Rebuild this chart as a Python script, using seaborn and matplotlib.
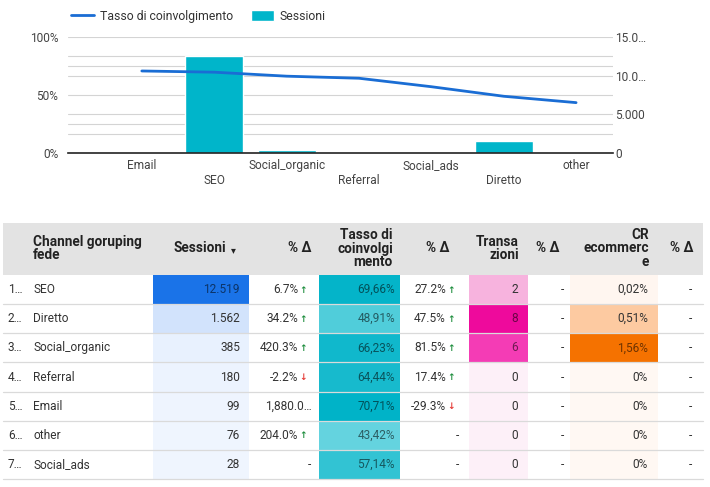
import numpy as np
import pandas as pd
import matplotlib
matplotlib.use("Agg")
import matplotlib.pyplot as plt
from matplotlib.colors import LinearSegmentedColormap, Normalize, to_rgb
from matplotlib.patches import Rectangle
import seaborn as sns

# data, one entry per channel
channels = ["SEO", "Diretto", "Social_organic", "Referral", "Email", "other", "Social_ads"]
sessions = [12519, 1562, 385, 180, 99, 76, 28]
sessions_delta = [6.7, 34.2, 420.3, -2.2, 1880.0, 204.0, None]
engagement = [69.66, 48.91, 66.23, 64.44, 70.71, 43.42, 57.14]
engagement_delta = [27.2, 47.5, 81.5, 17.4, -29.3, None, None]
transactions = [2, 8, 6, 0, 0, 0, 0]
transactions_delta = [None, None, None, None, None, None, None]
cr_ecommerce = [0.02, 0.51, 1.56, 0, 0, 0, 0]
cr_delta = [None, None, None, None, None, None, None]

left_ticks = [0, 50, 100]
right_ticks = [0, 5000, 10000, 15000]
header_titles = ["Channel goruping\nfede", "Sessioni", "% Δ", "Tasso di\ncoinvolgi\nmento",
                 "% Δ", "Transa\nzioni", "% Δ", "CR\necommerc\ne", "% Δ"]

LINE = "#1a6dd4"
BAR = "#00b5ca"
TXT = "#333333"

sns.set_theme(style="white")
plt.rcParams["font.family"] = ["Roboto", "DejaVu Sans"]

# chart is sorted by engagement, table by sessions
chart_idx = sorted(range(len(channels)), key=lambda i: -engagement[i])
table_idx = sorted(range(len(channels)), key=lambda i: -sessions[i])
df_chart = pd.DataFrame({
    "Canale": [channels[i] for i in chart_idx],
    "Sessioni": [sessions[i] for i in chart_idx],
    "Tasso": [engagement[i] for i in chart_idx],
})

fig = plt.figure(figsize=(7.1, 4.87), dpi=100)
W, H = 710, 487

# ---------- table ----------
ax_t = fig.add_axes([0, 0, 1, 1])
ax_t.set_xlim(0, W)
ax_t.set_ylim(H, 0)
ax_t.axis("off")

HEAD_Y0, ROW_Y0, ROW_H = 223, 275, 29.15
X_L, X_R = 3, 703
ax_t.add_patch(Rectangle((X_L, HEAD_Y0), X_R - X_L, ROW_Y0 - HEAD_Y0, color="#e3e3e3", lw=0))

head_x = [33, 226, 311, 393, 450, 519, 560, 649, 693]
for k, (t, x) in enumerate(zip(header_titles, head_x)):
    ax_t.text(x, 248.5, t, ha="left" if k == 0 else "right", va="center",
              multialignment="left" if k == 0 else "right",
              fontsize=9.8, fontweight="bold", color="#222222", linespacing=0.92)
ax_t.text(233, 250, "▾", ha="center", va="center", fontsize=7, color="#222222",
          family=["DejaVu Sans"])

heat_cols = [
    # (values, x0, x1, text right, cmap, norm, formatter)
    (sessions, 153, 249, 240,
     LinearSegmentedColormap.from_list("s", [(0, "#eff5fe"), (0.12, "#d2e3fc"), (1, "#1a73e8")]),
     Normalize(min(sessions), max(sessions)), lambda v: f"{v:,}".replace(",", ".")),
    (engagement, 319, 400, 395,
     LinearSegmentedColormap.from_list("e", ["#64d3df", "#00b3c8"]),
     Normalize(min(engagement), max(engagement)), lambda v: f"{v:.2f}".replace(".", ",") + "%"),
    (transactions, 469, 528, 518,
     LinearSegmentedColormap.from_list("t", [(0, "#fdf0f8"), (0.25, "#f7b3de"), (0.75, "#f43db5"), (1, "#ee0a9c")]),
     Normalize(0, max(transactions)), lambda v: f"{v}"),
    (cr_ecommerce, 570, 658, 648,
     LinearSegmentedColormap.from_list("c", [(0, "#fff8f3"), (0.33, "#fdc9a0"), (1, "#f57200")]),
     Normalize(0, max(cr_ecommerce)), lambda v: "0%" if v == 0 else f"{v:.2f}".replace(".", ",") + "%"),
]
delta_cols = [(sessions_delta, 298), (engagement_delta, 446), (transactions_delta, 551), (cr_delta, 679)]


def delta_text(v, xr, yc):
    if v is None:
        ax_t.text(xr + 11, yc, "-", ha="center", va="center", fontsize=8.6, color=TXT)
        return
    s = f"{v:,.1f}%"
    if len(s) > 7:
        ax_t.text(xr + 14, yc, s[:7] + "…", ha="right", va="center", fontsize=8.6, color=TXT)
        return
    ax_t.text(xr, yc, s, ha="right", va="center", fontsize=8.6, color=TXT)
    up = v >= 0
    ax_t.text(xr + 5, yc + 0.5, "↑" if up else "↓", ha="center", va="center", fontsize=6.5,
              fontweight="bold", color="#1e8e3e" if up else "#e53935", family=["DejaVu Sans"])


for r, i in enumerate(table_idx):
    y0 = ROW_Y0 + r * ROW_H
    yc = y0 + ROW_H / 2
    ax_t.text(8, yc, f"{r + 1}…", ha="left", va="center", fontsize=8.6, color=TXT)
    ax_t.text(33, yc, channels[i], ha="left", va="center", fontsize=8.6, color=TXT)
    for vals, x0, x1, xr, cmap, norm, fmt in heat_cols:
        c = cmap(norm(vals[i]))
        ax_t.add_patch(Rectangle((x0, y0), x1 - x0, ROW_H, color=c, lw=0))
        rgb = np.array(to_rgb(c))
        lum = 0.3 * rgb[0] + 0.59 * rgb[1] + 0.11 * rgb[2]
        tc = rgb * 0.45 if lum < 0.75 else TXT
        ax_t.text(xr, yc, fmt(vals[i]), ha="right", va="center", fontsize=8.6, color=tc)
    for vals, xr in delta_cols:
        delta_text(vals[i], xr, yc)
    ax_t.plot([X_L, X_R], [y0 + ROW_H, y0 + ROW_H], color="#dadada", lw=0.9)

# ---------- combo chart ----------
ax = fig.add_axes([68 / W, 1 - 153 / H, 545 / W, 116 / H])
ax2 = ax.twinx()

sns.lineplot(data=df_chart, x="Canale", y="Tasso", ax=ax, color=LINE, lw=2,
             sort=False, label="Tasso di coinvolgimento")
sns.barplot(data=df_chart, x="Canale", y="Sessioni", ax=ax2, color=BAR, width=0.8,
            saturation=1, label="Sessioni")

h1, l1 = ax.get_legend_handles_labels()
h2, l2 = ax2.get_legend_handles_labels()
for a in (ax, ax2):
    if a.get_legend() is not None:
        a.get_legend().remove()

ax.set_zorder(ax2.get_zorder() + 1)
ax.patch.set_visible(False)

ax.set_ylim(0, 100)
ax2.set_ylim(0, 15000)
ax.set_yticks(left_ticks, labels=[f"{v}%" for v in left_ticks])
right_labels = []
for v in right_ticks:
    s = f"{v:,}".replace(",", ".")
    right_labels.append(s[:4] + "…" if len(s) > 5 else s)
ax2.set_yticks(right_ticks, labels=right_labels)
ax2.set_yticks([2500, 12500] + [p / 100 * 15000 for p in (25, 50, 75)], minor=True)
ax2.grid(which="both", axis="y", color="#d4d4d4", lw=0.8)
ax2.set_axisbelow(True)
ax.grid(False)

ax.set_xticks(range(len(df_chart)))
ax.set_xticklabels([("\n" if k % 2 else "") + c for k, c in enumerate(df_chart["Canale"])],
                   linespacing=1.25)
ax.set_xlim(-1.02, 6.51)

for a in (ax, ax2):
    a.set_xlabel("")
    a.set_ylabel("")
    for sp in a.spines.values():
        sp.set_visible(False)
ax.spines["bottom"].set_visible(True)
ax.spines["bottom"].set_color("#222222")
ax.spines["bottom"].set_linewidth(1.2)

ax.tick_params(axis="y", length=0, pad=7, labelsize=8.6, labelcolor="#444444")
ax.tick_params(axis="x", length=0, pad=4, labelsize=8.6, labelcolor="#444444")
ax2.tick_params(axis="y", which="both", length=0, pad=1.5, labelsize=8.6, labelcolor="#444444")

fig.legend(h1 + h2, l1 + l2, loc="upper left", bbox_to_anchor=(60 / W, 1 + 1 / H),
           ncol=2, frameon=False, fontsize=8.8, handlelength=1.9, handleheight=1.0,
           columnspacing=1.4, handletextpad=0.5, labelcolor="#333333")

fig.savefig("out.png", dpi=100)
